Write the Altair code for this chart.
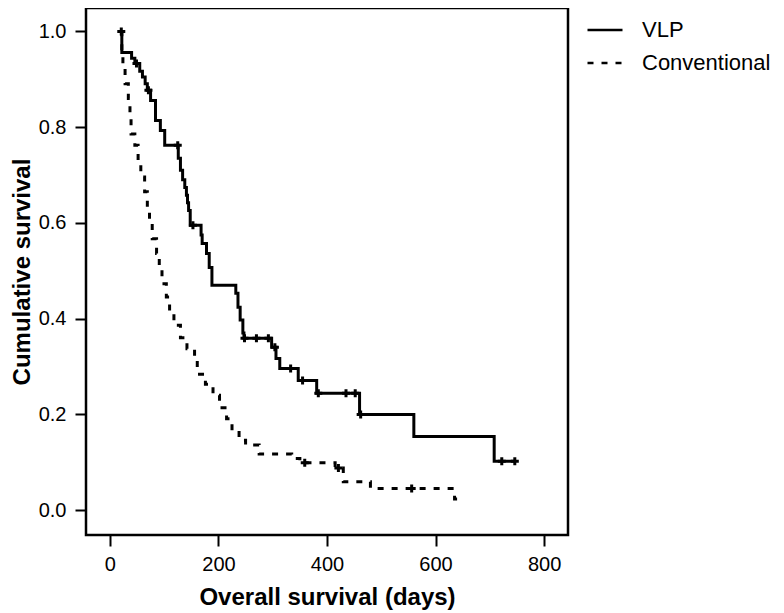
import altair as alt
import pandas as pd

# VLP Kaplan-Meier steps (days, survival)
vlp_time = [20, 22, 40, 46, 55, 60, 65, 69, 75, 84, 93, 101, 126, 130, 134, 138, 141, 143, 145, 148,
            168, 170, 178, 183, 188, 232, 236, 240, 245, 247, 298, 306, 313, 347, 381, 460, 560, 708, 746]
vlp_surv = [1.0, .956, .944, .933, .917, .905, .891, .877, .856, .814, .793, .762, .735, .71, .69, .674, .658, .642, .626, .595,
            .575, .557, .536, .507, .47, .453, .424, .397, .37, .359, .34, .317, .296, .271, .244, .2, .154, .102, .102]
vlp_cens_time = [21, 49, 71, 125, 153, 248, 270, 292, 304, 333, 355, 384, 435, 452, 462, 722, 746]
vlp_cens_surv = [1.0, .933, .877, .762, .595, .359, .359, .359, .34, .296, .271, .244, .244, .244, .2, .102, .102]

# Conventional Kaplan-Meier steps
conv_time = [20, 22, 24, 28, 34, 37, 39, 46, 52, 57, 64, 69, 73, 78, 86, 91, 96, 104, 110, 118,
             130, 142, 156, 161, 176, 190, 202, 215, 225, 238, 250, 275, 335, 350, 415, 430, 480, 635, 640]
conv_surv = [1.0, .96, .925, .891, .86, .825, .786, .762, .727, .696, .665, .633, .598, .567, .536, .508, .473, .445, .415, .386,
             .36, .337, .315, .284, .263, .24, .214, .191, .166, .146, .136, .117, .108, .099, .088, .059, .045, .023, .023]
conv_cens_time = [359, 421, 556]
conv_cens_surv = [.099, .088, .045]

groups = ["VLP", "Conventional"]
x_ticks = [0, 200, 400, 600, 800]
y_ticks = [0.0, 0.2, 0.4, 0.6, 0.8, 1.0]

lines = pd.concat([
    pd.DataFrame({"t": vlp_time, "s": vlp_surv, "g": groups[0]}),
    pd.DataFrame({"t": conv_time, "s": conv_surv, "g": groups[1]}),
])
cens = pd.concat([
    pd.DataFrame({"t": vlp_cens_time, "s": vlp_cens_surv, "g": groups[0]}),
    pd.DataFrame({"t": conv_cens_time, "s": conv_cens_surv, "g": groups[1]}),
])

FONT = "Liberation Sans"

xs = alt.Scale(domain=[-44, 844], nice=False, zero=False)
ys = alt.Scale(domain=[-0.052, 1.049], nice=False, zero=False)

xax = alt.Axis(values=x_ticks, title="Overall survival (days)", grid=False, domain=False,
               tickSize=11, tickWidth=2, tickColor="black", labelFontSize=20, labelFont=FONT,
               labelColor="black", labelPadding=8, titleFont=FONT, titleFontSize=24,
               titleFontWeight="bold", titleColor="black", titlePadding=11)
yax = alt.Axis(values=y_ticks, format=".1f", title="Cumulative survival", grid=False, domain=False,
               tickSize=11, tickWidth=2, tickColor="black", labelFontSize=20, labelFont=FONT,
               labelColor="black", labelPadding=9, titleFont=FONT, titleFontSize=24,
               titleFontWeight="bold", titleColor="black", titlePadding=4)

dash = alt.StrokeDash(
    "g:N",
    scale=alt.Scale(domain=groups, range=[[1, 0], [6, 8]]),
    legend=alt.Legend(title=None, orient="none", legendX=500, legendY=3,
                      symbolType="stroke", symbolSize=1225, symbolStrokeWidth=2.5,
                      symbolStrokeColor="black", labelFont=FONT, labelFontSize=22,
                      labelColor="black", labelOffset=18, rowPadding=3, padding=0),
)

line = alt.Chart(lines).mark_line(interpolate="step-after", color="black", strokeWidth=3).encode(
    x=alt.X("t:Q", scale=xs, axis=xax),
    y=alt.Y("s:Q", scale=ys, axis=yax),
    strokeDash=dash,
    detail="g:N",
)

marks = alt.Chart(cens).mark_point(
    shape="M-1,0H1M0,-1V1", size=64, filled=False, color="black", strokeWidth=3, opacity=1
).encode(
    x=alt.X("t:Q", scale=xs),
    y=alt.Y("s:Q", scale=ys),
)

chart = alt.layer(line, marks).properties(
    width=482, height=527,
    autosize=alt.AutoSizeParams(type="none"),
    padding={"left": 78, "top": 0, "right": 208, "bottom": 90},
).configure(background="white").configure_view(stroke="black", strokeWidth=2.5)

chart.save("out.html", embed_options={"renderer": "svg", "actions": False})
